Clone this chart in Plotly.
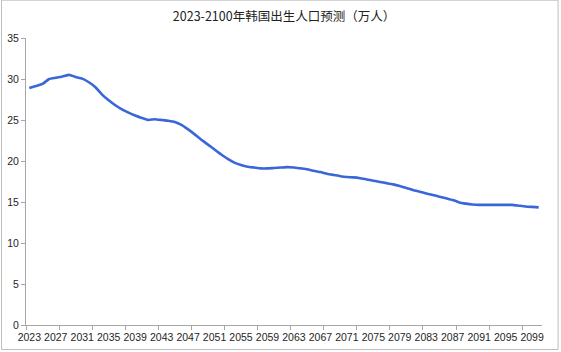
import plotly.graph_objects as go

years = list(range(2023, 2101))
births = [
    28.9, 29.15, 29.4, 30.0, 30.15, 30.3, 30.5, 30.25, 30.05, 29.6,
    29.0, 28.1, 27.4, 26.8, 26.3, 25.9, 25.55, 25.25, 25.0, 25.1,
    25.0, 24.9, 24.75, 24.4, 23.85, 23.25, 22.6, 22.0, 21.4, 20.8,
    20.25, 19.8, 19.5, 19.3, 19.2, 19.1, 19.1, 19.15, 19.2, 19.25,
    19.2, 19.1, 19.0, 18.8, 18.65, 18.45, 18.3, 18.15, 18.05, 18.0,
    17.9, 17.75, 17.6, 17.45, 17.3, 17.15, 16.95, 16.7, 16.45, 16.25,
    16.05, 15.85, 15.65, 15.45, 15.25, 14.95, 14.8, 14.7, 14.65, 14.65,
    14.65, 14.65, 14.65, 14.65, 14.55, 14.45, 14.4, 14.35,
]
assert len(years) == len(births)

label_years = list(range(2023, 2101, 4))
y_ticks = [0, 5, 10, 15, 20, 25, 30, 35]
title_text = "2023-2100年韩国出生人口预测（万人）"

W, H = 561, 352
L, R, T, B = 26, 18.6, 38.3, 27

fig = go.Figure()
fig.add_trace(go.Scatter(
    x=years, y=births, mode="lines",
    line=dict(color="#3a67d8", width=2.6, shape="spline", smoothing=0.4),
    hoverinfo="skip", showlegend=False,
))
# invisible trace on secondary x axis so tick marks render
fig.add_trace(go.Scatter(x=[years[0]], y=[None], xaxis="x2", showlegend=False, hoverinfo="skip"))

xmin, xmax = years[0] - 0.5, years[-1] + 0.5
tick_marks = [xmin + 5 * k for k in range(int((xmax - xmin) // 5) + 1)]

tick_font = dict(family="Liberation Sans, Arial, sans-serif", size=10.5, color="#262626")

fig.update_layout(
    width=W, height=H,
    margin=dict(l=L, r=R, t=T, b=B),
    paper_bgcolor="white", plot_bgcolor="white",
    title=dict(text=title_text, x=0.5, xref="paper", y=1 - 17 / H, yanchor="middle",
               font=dict(family="Noto Sans CJK SC", size=12.5, color="#222222")),
    xaxis=dict(range=[xmin, xmax], tickvals=label_years, ticktext=[str(v) for v in label_years],
               ticks="", showgrid=False, zeroline=False, showline=True, automargin=False,
               linecolor="#a6a6a6", linewidth=1, tickfont=tick_font, ticklabelstandoff=2),
    xaxis2=dict(range=[xmin, xmax], overlaying="x", side="bottom", tickvals=tick_marks,
                ticks="outside", ticklen=4, tickcolor="#a6a6a6", showticklabels=False,
                showgrid=False, zeroline=False, showline=False, automargin=False),
    yaxis=dict(range=[0, 35], tickvals=y_ticks, ticks="outside", ticklen=4, tickcolor="#a6a6a6",
               showgrid=False, zeroline=False, showline=True, linecolor="#a6a6a6", linewidth=1,
               tickfont=tick_font, automargin=False),
)

# chart area border (in pixel terms converted to paper coords)
pw, ph = W - L - R, H - T - B
def px(x): return (x - L) / pw
def py(y): return (H - B - y) / ph
fig.add_shape(type="rect", xref="paper", yref="paper",
              x0=px(1.5), x1=px(558.5), y0=py(349.5), y1=py(0.5),
              line=dict(color="#bdbdbd", width=1), fillcolor="rgba(0,0,0,0)", layer="below")

fig.write_html("out.html")
